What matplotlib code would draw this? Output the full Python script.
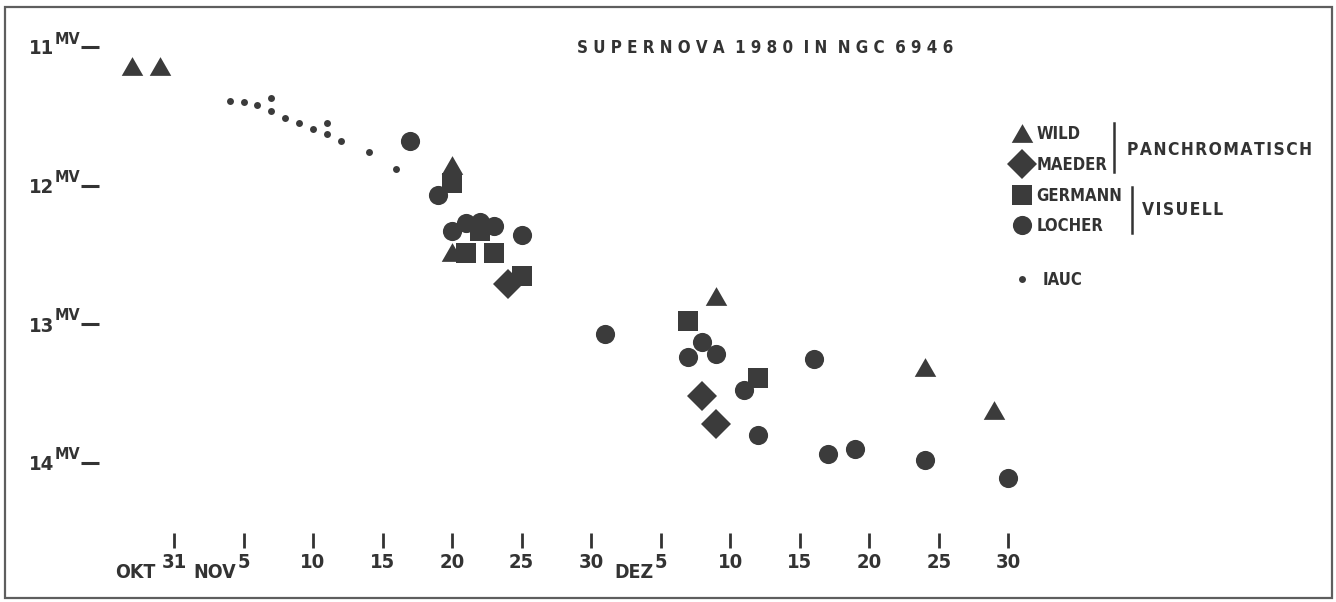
import matplotlib
matplotlib.use('Agg')
import matplotlib.pyplot as plt
import matplotlib.transforms as mtransforms
from matplotlib.patches import Rectangle

INK   = "#3b3b3b"
TEXT  = "#333333"
FRAME = "#5e5e5e"
FONT  = ['DejaVu Sans']
STRETCH = 'condensed'
HAIR = '\u200a'

W, H = 1336, 602

# days counted from 31 Oct 1980 (NOV 5 = 5, DEZ 5 = 35, DEZ 30 = 60), magnitudes mv
wild_day = [-3, -1, 20, 20, 39, 54, 59]
wild_mag = [11.14, 11.14, 11.85, 12.48, 12.80, 13.31, 13.62]
maeder_day = [24, 38, 39]
maeder_mag = [12.71, 13.52, 13.72]
germann_day = [20, 22, 21, 23, 25, 37, 42]
germann_mag = [11.98, 12.33, 12.49, 12.49, 12.65, 12.98, 13.39]
locher_day = [17, 19, 20, 21, 22, 23, 25, 31, 37, 38, 39, 41, 42, 46, 47, 49, 54, 60]
locher_mag = [11.68, 12.07, 12.33, 12.27, 12.26, 12.29, 12.36, 13.07, 13.24, 13.13,
              13.22, 13.48, 13.80, 13.25, 13.94, 13.90, 13.98, 14.11]
iauc_day = [4, 5, 6, 7, 7, 8, 9, 10, 11, 11, 12, 14, 16]
iauc_mag = [11.39, 11.40, 11.42, 11.37, 11.46, 11.51, 11.55, 11.59, 11.55, 11.63,
            11.68, 11.76, 11.88]

mag_ticks  = [11, 12, 13, 14]
mag_labels = ['11', '12', '13', '14']
day_ticks  = [0, 5, 10, 15, 20, 25, 30, 35, 40, 45, 50, 55, 60]
day_labels = ['31', '5', '10', '15', '20', '25', '30', '5', '10', '15', '20', '25', '30']
months     = ['OKT', 'NOV', 'DEZ']
month_days = [0, 5, 35]

TRIANGLE = [(0, 0.87), (-1, -0.87), (1, -0.87)]

fig = plt.figure(figsize=(W / 100, H / 100), dpi=100)
fig.patch.set_facecolor('white')
ax = fig.add_axes([0, 0, 1, 1])
ax.set_xlim(-174 / 13.905, (W - 174) / 13.905)
ax.set_ylim(11 + (H - 47) / 138.5, 11 - 47 / 138.5)
ax.axis('off')


def shift(trans, dx, dy):
    return mtransforms.offset_copy(trans, fig=fig, x=dx, y=dy, units='dots')


def label(x, y, s, trans, size, **kw):
    return ax.text(x, y, s, transform=trans, fontsize=size, fontweight='bold',
                   family=FONT, fontstretch=STRETCH, color=TEXT, **kw)


kw = dict(linestyle='none', color=INK, markeredgewidth=0)
h_wild, = ax.plot(wild_day, wild_mag, marker=TRIANGLE, markersize=15.5, label='WILD', **kw)
h_maeder, = ax.plot(maeder_day, maeder_mag, marker='D', markersize=15, label='MAEDER', **kw)
h_germann, = ax.plot(germann_day, germann_mag, marker='s', markersize=14.5, label='GERMANN', **kw)
h_locher, = ax.plot(locher_day, locher_mag, marker='o', markersize=13.8, label='LOCHER', **kw)
h_iauc, = ax.plot(iauc_day, iauc_mag, marker='o', markersize=5, label='IAUC', **kw)

# magnitude scale on the left
ytr = ax.get_yaxis_transform()
for m, lab in zip(mag_ticks, mag_labels):
    label(54 / W, m, lab, shift(ytr, 0, -2), 14.5, ha='right', va='center')
    label(55 / W, m, 'MV', shift(ytr, 0, 8), 11.5, ha='left', va='center')
    ax.plot([81 / W, 99 / W], [m, m], transform=ytr, color=TEXT, lw=2.2,
            solid_capstyle='butt')

# date scale at the bottom
xtr = ax.get_xaxis_transform()
for d, lab in zip(day_ticks, day_labels):
    ax.plot([d, d], [1 - 533 / H, 1 - 548 / H], transform=xtr, color=TEXT, lw=2,
            solid_capstyle='butt')
    label(d, 1 - 562 / H, lab, xtr, 14.5, ha='center', va='center')
for mon, d in zip(months, month_days):
    dx = -19 if mon == 'OKT' else -7
    label(d, 1 - 573 / H, mon, shift(xtr, dx, 0), 14, ha='right', va='center')

# title
label(765 / W, 1 - 48 / H, 'S U P E R N O V A  1 9 8 0  I N  N G C  6 9 4 6',
      ax.transAxes, 12.2, ha='center', va='center')

# legend
leg_font = dict(family=FONT, weight='bold', size=12, stretch=STRETCH)
leg1 = ax.legend(handles=[h_wild, h_maeder, h_germann, h_locher],
                 loc='upper left', bbox_to_anchor=(1005 / W, 1 - 117 / H),
                 frameon=False, prop=leg_font, labelspacing=0.76,
                 handlelength=1.0, handletextpad=0.4, borderpad=0, labelcolor=TEXT)
ax.add_artist(leg1)
ax.legend(handles=[h_iauc], loc='upper left', bbox_to_anchor=(1005 / W, 1 - 263 / H),
          frameon=False, prop=leg_font, handlelength=1.0, handletextpad=0.75,
          borderpad=0, labelcolor=TEXT)

ax.plot([1114 / W, 1114 / W], [1 - 123 / H, 1 - 172 / H], transform=ax.transAxes,
        color=TEXT, lw=1.8)
ax.plot([1132 / W, 1132 / W], [1 - 187 / H, 1 - 233 / H], transform=ax.transAxes,
        color=TEXT, lw=1.8)
label(1127 / W, 1 - 150 / H, HAIR.join('PANCHROMATISCH'), ax.transAxes, 12.5,
      ha='left', va='center')
label(1142 / W, 1 - 210 / H, HAIR.join('VISUELL'), ax.transAxes, 12.5,
      ha='left', va='center')

# outer frame
fig.patches.append(Rectangle((5 / W, 1 - 598 / H), 1327 / W, 591 / H,
                             transform=fig.transFigure, fill=False,
                             edgecolor=FRAME, linewidth=1.6))

fig.savefig('out.png', dpi=100, facecolor='white')
